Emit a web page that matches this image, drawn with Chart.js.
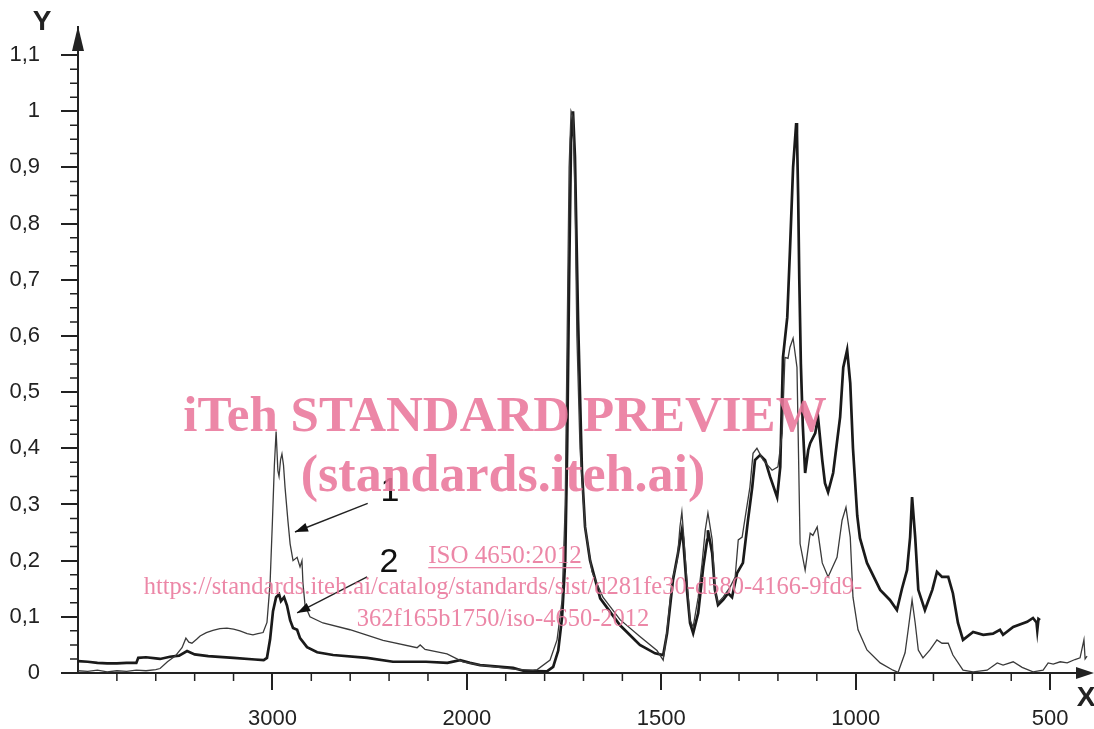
<!DOCTYPE html>
<html><head><meta charset="utf-8">
<script src="https://cdn.jsdelivr.net/npm/chart.js@4.4.1/dist/chart.umd.min.js"></script>
<style>html,body{margin:0;padding:0;background:#fff;overflow:hidden}#c{display:block}</style>
</head><body>
<canvas id="c" width="1094" height="729" style="width:1094px;height:729px"></canvas>
<script>
// ---- data (wavenumber, absorbance) ----
const xTickLabels = [3000, 2000, 1500, 1000, 500];
const yTickValues = [0, 0.1, 0.2, 0.3, 0.4, 0.5, 0.6, 0.7, 0.8, 0.9, 1, 1.1];

const wnSpectrum1 = [4000,3950,3900,3850,3800,3750,3700,3650,3600,3578,3540,3500,3465,3445,3430,3414,3390,3372,3340,3306,3270,3234,3200,3167,3130,3100,3075,3048,3028,3012,3000,2990,2981,2972,2966,2958,2951,2943,2935,2920,2909,2894,2873,2858,2848,2843,2832,2807,2740,2601,2431,2256,2240,2215,2102,2020,1966,1881,1830,1819,1786,1768,1755,1747,1742,1737,1732,1727,1722,1717,1709,1696,1678,1650,1606,1555,1511,1495,1485,1472,1459,1452,1447,1444,1434,1426,1418,1405,1395,1387,1380,1369,1362,1354,1341,1323,1310,1302,1292,1284,1272,1264,1254,1238,1215,1200,1189,1182,1174,1169,1161,1151,1148,1143,1130,1117,1110,1099,1086,1071,1048,1035,1025,1014,1007,994,971,937,904,891,873,865,855,847,839,827,809,791,778,762,750,724,698,662,636,621,595,572,544,518,505,492,474,456,436,423,413,410,405];
const absSpectrum1 = [0.004,0.003,0.005,0.002,0.004,0.003,0.005,0.004,0.006,0.008,0.02,0.03,0.045,0.062,0.055,0.053,0.06,0.066,0.072,0.076,0.079,0.08,0.078,0.075,0.07,0.068,0.07,0.072,0.09,0.16,0.27,0.37,0.43,0.36,0.35,0.38,0.39,0.37,0.33,0.27,0.23,0.2,0.206,0.189,0.2,0.16,0.12,0.1,0.089,0.077,0.058,0.045,0.05,0.042,0.034,0.02,0.014,0.007,0.005,0.006,0.023,0.059,0.13,0.3,0.6,0.9,1.0,0.99,0.85,0.6,0.4,0.26,0.18,0.135,0.095,0.065,0.04,0.023,0.077,0.165,0.2,0.26,0.287,0.26,0.165,0.094,0.082,0.135,0.196,0.254,0.285,0.237,0.148,0.125,0.135,0.153,0.171,0.237,0.242,0.278,0.331,0.391,0.4,0.379,0.361,0.367,0.427,0.562,0.56,0.58,0.596,0.544,0.427,0.23,0.183,0.249,0.245,0.26,0.196,0.171,0.206,0.272,0.295,0.242,0.135,0.077,0.041,0.018,0.005,0.001,0.036,0.077,0.13,0.089,0.041,0.027,0.041,0.059,0.053,0.053,0.032,0.005,0.002,0.005,0.018,0.014,0.02,0.01,0.002,0.005,0.018,0.016,0.02,0.018,0.024,0.027,0.059,0.025,0.03];

const wnSpectrum2 = [4000,3950,3900,3850,3800,3750,3700,3690,3650,3600,3578,3527,3480,3439,3400,3330,3200,3090,3045,3028,3012,2997,2981,2966,2956,2940,2925,2909,2894,2873,2858,2822,2770,2688,2513,2380,2210,2100,2035,1992,1966,1881,1855,1794,1778,1765,1755,1747,1742,1737,1732,1727,1722,1714,1704,1696,1683,1657,1606,1555,1516,1495,1485,1470,1457,1447,1444,1434,1426,1418,1405,1392,1382,1380,1369,1362,1354,1341,1328,1318,1305,1290,1277,1266,1259,1246,1233,1220,1202,1194,1187,1176,1169,1161,1153,1151,1148,1145,1141,1136,1130,1122,1117,1104,1097,1086,1079,1071,1058,1040,1032,1022,1014,1007,996,989,971,937,912,894,881,868,860,855,847,839,822,803,791,778,762,750,737,724,698,672,647,629,621,595,559,544,535,533,530,526];
const absSpectrum2 = [0.021,0.02,0.018,0.017,0.017,0.018,0.018,0.027,0.028,0.026,0.025,0.029,0.031,0.039,0.033,0.03,0.027,0.024,0.023,0.027,0.06,0.11,0.135,0.14,0.128,0.135,0.12,0.094,0.08,0.077,0.062,0.046,0.037,0.032,0.027,0.02,0.02,0.018,0.023,0.018,0.014,0.009,0.004,0.003,0.011,0.04,0.1,0.2,0.4,0.7,0.95,1.0,0.92,0.63,0.36,0.26,0.2,0.133,0.085,0.05,0.035,0.032,0.071,0.165,0.213,0.254,0.24,0.148,0.089,0.071,0.107,0.189,0.237,0.254,0.213,0.148,0.121,0.13,0.142,0.135,0.178,0.196,0.272,0.331,0.379,0.388,0.379,0.349,0.313,0.367,0.562,0.633,0.753,0.9,0.979,0.96,0.85,0.7,0.55,0.44,0.356,0.397,0.409,0.427,0.456,0.379,0.338,0.322,0.356,0.456,0.544,0.575,0.516,0.4,0.28,0.24,0.196,0.148,0.13,0.112,0.15,0.183,0.242,0.313,0.242,0.148,0.112,0.148,0.18,0.171,0.171,0.142,0.089,0.059,0.073,0.068,0.07,0.077,0.068,0.082,0.091,0.098,0.09,0.076,0.096,0.094];

const curveLabels = ['1', '2'];

// ---- axis transform: wavenumber scale changes at 2000 cm-1 ----
function toU(wn) { return wn >= 2000 ? 4000 - wn : 2000 + 2 * (2000 - wn); }
function fromU(u) { return u <= 2000 ? 4000 - u : 2000 - (u - 2000) / 2; }
function pts(wns, vals) { return wns.map((w, i) => ({ x: toU(w), y: vals[i] })); }

const INK = '#222';
const FONT = "'Liberation Sans', Arial, sans-serif";

const decor = {
  id: 'decor',
  afterDatasetsDraw(chart) {
    const ctx = chart.ctx, xs = chart.scales.x, ys = chart.scales.y, a = chart.chartArea;
    ctx.save();
    // minor ticks
    ctx.strokeStyle = INK; ctx.lineWidth = 1.5;
    ctx.beginPath();
    for (let u = 200; u <= 5000; u += 200) {
      if (u % 1000 === 0) continue;
      const px = xs.getPixelForValue(u);
      ctx.moveTo(px, a.bottom); ctx.lineTo(px, a.bottom + 8);
    }
    for (let k = 1; k <= 44; k++) {
      if (k % 4 === 0) continue;
      const py = ys.getPixelForValue(k * 0.025);
      ctx.moveTo(a.left - 8, py); ctx.lineTo(a.left, py);
    }
    ctx.stroke();
    // arrows
    ctx.fillStyle = INK;
    ctx.beginPath();
    ctx.moveTo(a.left, a.top - 1); ctx.lineTo(a.left - 6, a.top + 24); ctx.lineTo(a.left + 6, a.top + 24); ctx.closePath(); ctx.fill();
    ctx.beginPath();
    ctx.moveTo(1094, a.bottom); ctx.lineTo(1076, a.bottom - 6); ctx.lineTo(1076, a.bottom + 6); ctx.closePath(); ctx.fill();
    // axis letters
    ctx.font = "bold 28px " + FONT; ctx.textAlign = 'center'; ctx.textBaseline = 'middle';
    ctx.fillText('Y', 42, 22);
    ctx.fillText('X', 1086, 698);
    // curve annotations (positions in data space)
    const ann = [
      { t: curveLabels[0], lx: 1605, ly: 0.322, fx: 1490, fy: 0.302, tx: 1116, ty: 0.251 },
      { t: curveLabels[1], lx: 1600, ly: 0.197, fx: 1487, fy: 0.171, tx: 1127, ty: 0.107 }
    ];
    ctx.font = "34px " + FONT;
    ann.forEach(o => {
      ctx.fillStyle = '#111';
      ctx.fillText(o.t, xs.getPixelForValue(o.lx), ys.getPixelForValue(o.ly));
      const x1 = xs.getPixelForValue(o.fx), y1 = ys.getPixelForValue(o.fy);
      const x2 = xs.getPixelForValue(o.tx), y2 = ys.getPixelForValue(o.ty);
      ctx.strokeStyle = INK; ctx.lineWidth = 1.4;
      ctx.beginPath(); ctx.moveTo(x1, y1); ctx.lineTo(x2, y2); ctx.stroke();
      const ang = Math.atan2(y2 - y1, x2 - x1), L = 13, W = 4.5;
      ctx.beginPath();
      ctx.moveTo(x2, y2);
      ctx.lineTo(x2 - L * Math.cos(ang) + W * Math.sin(ang), y2 - L * Math.sin(ang) - W * Math.cos(ang));
      ctx.lineTo(x2 - L * Math.cos(ang) - W * Math.sin(ang), y2 - L * Math.sin(ang) + W * Math.cos(ang));
      ctx.closePath(); ctx.fill();
    });
    // watermark
    ctx.fillStyle = 'rgba(233,118,155,0.88)';
    ctx.font = "bold 51px 'Liberation Serif', 'Times New Roman', serif";
    ctx.fillText('iTeh STANDARD PREVIEW', 505, 418);
    ctx.font = "bold 52px 'Liberation Serif', 'Times New Roman', serif";
    ctx.fillText('(standards.iteh.ai)', 503, 478);
    ctx.font = "25px 'Liberation Serif', 'Times New Roman', serif";
    ctx.fillText('ISO 4650:2012', 505, 556);
    const w = ctx.measureText('ISO 4650:2012').width;
    ctx.fillRect(505 - w / 2, 567, w, 1.3);
    ctx.font = "24.5px 'Liberation Serif', 'Times New Roman', serif";
    ctx.fillText('https://standards.iteh.ai/catalog/standards/sist/d281fe30-d580-4166-9fd9-', 503, 588);
    ctx.fillText('362f165b1750/iso-4650-2012', 503, 620);
    ctx.restore();
  }
};

new Chart(document.getElementById('c'), {
  type: 'line',
  data: {
    datasets: [
      { label: curveLabels[0], data: pts(wnSpectrum1, absSpectrum1), borderColor: '#3a3a3a', borderWidth: 1.3, pointRadius: 0, tension: 0, fill: false },
      { label: curveLabels[1], data: pts(wnSpectrum2, absSpectrum2), borderColor: '#1a1a1a', borderWidth: 2.7, pointRadius: 0, tension: 0, fill: false }
    ]
  },
  options: {
    responsive: false, animation: false, devicePixelRatio: 1,
    layout: { padding: { top: 27, right: 5, left: 0, bottom: 0 } },
    plugins: { legend: { display: false }, tooltip: { enabled: false } },
    scales: {
      x: {
        type: 'linear', min: 0, max: 5200,
        afterBuildTicks: s => { s.ticks = xTickLabels.map(w => ({ value: toU(w) })); },
        afterFit: s => { s.height = 56; s.paddingLeft = 0; s.paddingRight = 0; },
        ticks: { callback: v => String(Math.round(fromU(v))), font: { family: FONT, size: 22 }, color: INK, padding: 16, maxRotation: 0, autoSkip: false },
        grid: { drawOnChartArea: false, drawTicks: true, tickLength: 17, color: INK, lineWidth: 2 },
        border: { display: true, color: INK, width: 2 }
      },
      y: {
        type: 'linear', min: 0, max: 1.15,
        afterBuildTicks: s => { s.ticks = yTickValues.map(v => ({ value: v })); },
        afterFit: s => { s.width = 78; s.paddingTop = 0; s.paddingBottom = 0; },
        ticks: { callback: v => String(Number(v.toFixed(2))).replace('.', ','), font: { family: FONT, size: 22 }, color: INK, padding: 21 },
        grid: { drawOnChartArea: false, drawTicks: true, tickLength: 17, color: INK, lineWidth: 2 },
        border: { display: true, color: INK, width: 2 }
      }
    }
  },
  plugins: [decor]
});
</script>
</body></html>
